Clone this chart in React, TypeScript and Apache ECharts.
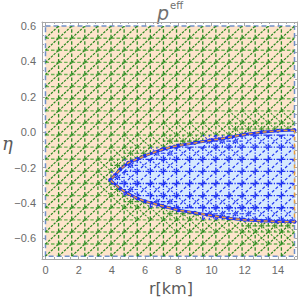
import React, { useEffect, useRef } from "react";
import * as echarts from "echarts";

// Axis ticks / labels
const X_MAJOR = [0, 2, 4, 6, 8, 10, 12, 14];
const X_MINOR = [0.5, 1, 1.5, 2.5, 3, 3.5, 4.5, 5, 5.5, 6.5, 7, 7.5, 8.5, 9, 9.5, 10.5, 11, 11.5, 12.5, 13, 13.5, 14.5, 15];
const Y_MAJOR = [-0.6, -0.4, -0.2, 0, 0.2, 0.4, 0.6];
const Y_MINOR = [-0.7, -0.65, -0.55, -0.5, -0.45, -0.35, -0.3, -0.25, -0.15, -0.1, -0.05, 0.05, 0.1, 0.15, 0.25, 0.3, 0.35, 0.45, 0.5, 0.55];

// Plotted domain of the region plot
const X_RANGE = [0, 15];
const Y_RANGE = [-0.7, 0.6];
const MESH_NX = 19;
const MESH_NY = 19;

// Boundary of the blue region (upper and lower edges sharing r values)
const BOUND_X = [3.9, 4.5, 5, 5.5, 6, 7, 8, 9, 10, 11, 12, 13, 14, 15];
const UPPER = [-0.27, -0.21, -0.172, -0.152, -0.133, -0.098, -0.075, -0.06, -0.045, -0.03, -0.012, 0.0, 0.008, 0.012];
const LOWER = [-0.27, -0.318, -0.348, -0.372, -0.39, -0.415, -0.44, -0.455, -0.47, -0.485, -0.495, -0.5, -0.505, -0.505];

const interp = (xs: number[], ys: number[], x: number) => {
  if (x <= xs[0]) return ys[0];
  for (let k = 1; k < xs.length; k++) {
    if (x <= xs[k]) {
      const t = (x - xs[k - 1]) / (xs[k] - xs[k - 1]);
      return ys[k - 1] + t * (ys[k] - ys[k - 1]);
    }
  }
  return ys[ys.length - 1];
};
const inBlue = (x: number, y: number) => {
  if (x < BOUND_X[0]) return false;
  return y <= interp(BOUND_X, UPPER, x) && y >= interp(BOUND_X, LOWER, x);
};

// Mesh (triangulated sampling grid) segments: [x1, y1, x2, y2, kind, blue]
// kind: 0 vertical, 1 horizontal, 2 diagonal, 3 anti-diagonal/refinement
const buildMesh = () => {
  const xs: number[] = [];
  const ys: number[] = [];
  for (let i = 0; i <= MESH_NX; i++) xs.push(X_RANGE[0] + ((X_RANGE[1] - X_RANGE[0]) * i) / MESH_NX);
  for (let j = 0; j <= MESH_NY; j++) ys.push(Y_RANGE[0] + ((Y_RANGE[1] - Y_RANGE[0]) * j) / MESH_NY);
  const segs: number[][] = [];
  const add = (x1: number, y1: number, x2: number, y2: number, kind: number) => {
    const b = inBlue((x1 + x2) / 2, (y1 + y2) / 2) ? 1 : 0;
    segs.push([x1, y1, x2, y2, kind, b]);
  };
  for (let i = 1; i < MESH_NX; i++)
    for (let j = 0; j < MESH_NY; j++) add(xs[i], ys[j], xs[i], ys[j + 1], 0);
  for (let j = 1; j < MESH_NY; j++)
    for (let i = 0; i < MESH_NX; i++) add(xs[i], ys[j], xs[i + 1], ys[j], 1);
  for (let i = 0; i < MESH_NX; i++)
    for (let j = 0; j < MESH_NY; j++) add(xs[i], ys[j], xs[i + 1], ys[j + 1], 2);
  const corner = (i: number, j: number) => inBlue(xs[i], ys[j]);
  const mixed = (i: number, j: number) => {
    if (i < 0 || j < 0 || i >= MESH_NX || j >= MESH_NY) return false;
    const c = [corner(i, j), corner(i + 1, j), corner(i, j + 1), corner(i + 1, j + 1)];
    return c.some((v) => v) && c.some((v) => !v);
  };
  for (let i = 0; i < MESH_NX; i++)
    for (let j = 0; j < MESH_NY; j++) {
      const m = mixed(i, j);
      const near = m || mixed(i - 1, j) || mixed(i + 1, j) || mixed(i, j - 1) || mixed(i, j + 1);
      if (near) add(xs[i], ys[j + 1], xs[i + 1], ys[j], 3);
      if (m) {
        const xc = (xs[i] + xs[i + 1]) / 2;
        const yc = (ys[j] + ys[j + 1]) / 2;
        add(xc, ys[j], xc, ys[j + 1], 3);
        add(xs[i], yc, xs[i + 1], yc, 3);
      }
    }
  return segs;
};
const MESH = buildMesh();

const FRAME = "#A8A8A8";
const LABEL = "#6A6A6A";
const FONT = "Liberation Sans";

const meshStyle = (kind: number, blue: number) => {
  if (blue) {
    if (kind === 0) return { stroke: "#1F33F0", lineWidth: 1.3, lineDash: [4, 1.5, 1.2, 1.5] };
    if (kind === 1) return { stroke: "#1F33F0", lineWidth: 1.3, lineDash: [4, 1.5, 1.2, 1.5] };
    if (kind === 2) return { stroke: "#1F33F0", lineWidth: 1.2, lineDash: [3, 2] };
    return { stroke: "#1F33F0", lineWidth: 1.1, lineDash: [2, 1.5] };
  }
  if (kind === 0) return { stroke: "#2F8E28", lineWidth: 1.3, lineDash: [3.5, 2] };
  if (kind === 1) return { stroke: "#6DB154", lineWidth: 1.4, lineDash: [3.5, 2] };
  if (kind === 2) return { stroke: "#26861C", lineWidth: 1.2, lineDash: [2.5, 1.2] };
  return { stroke: "#339127", lineWidth: 1.1, lineDash: [2, 1.5] };
};

const meshSeries = (blue: number, z: number) => ({
  type: "custom",
  coordinateSystem: "cartesian2d",
  xAxisIndex: 0,
  yAxisIndex: 0,
  z,
  silent: true,
  data: MESH.filter((s) => s[5] === blue),
  encode: { x: [0, 2], y: [1, 3] },
  renderItem: (_p: any, api: any) => {
    const a = api.coord([api.value(0), api.value(1)]);
    const b = api.coord([api.value(2), api.value(3)]);
    return {
      type: "line",
      shape: { x1: a[0], y1: a[1], x2: b[0], y2: b[1] },
      style: { ...meshStyle(api.value(4), blue), fill: null },
    };
  },
});

const boundaryOpen = () => {
  const pts: number[][] = [];
  for (let k = BOUND_X.length - 1; k >= 0; k--) pts.push([BOUND_X[k], UPPER[k]]);
  for (let k = 1; k < BOUND_X.length; k++) pts.push([BOUND_X[k], LOWER[k]]);
  return pts;
};

const xAxisDef = (pos: string, values: number[], len: number, labels: boolean, line: boolean) => ({
  type: "value",
  min: -0.21,
  max: 15.15,
  position: pos,
  splitLine: { show: false },
  axisLine: { show: line, onZero: false, lineStyle: { color: FRAME, width: 1 } },
  axisTick: { show: true, inside: true, length: len, customValues: values, lineStyle: { color: FRAME } },
  axisLabel: labels
    ? { show: true, customValues: values, color: LABEL, fontSize: 11, fontFamily: FONT, margin: 5 }
    : { show: false },
});
const yAxisDef = (pos: string, values: number[], len: number, labels: boolean, line: boolean) => ({
  type: "value",
  min: -0.716,
  max: 0.623,
  position: pos,
  splitLine: { show: false },
  axisLine: { show: line, onZero: false, lineStyle: { color: FRAME, width: 1 } },
  axisTick: { show: true, inside: true, length: len, customValues: values, lineStyle: { color: FRAME } },
  axisLabel: labels
    ? {
        show: true,
        customValues: values,
        color: LABEL,
        fontSize: 11,
        fontFamily: FONT,
        margin: 6,
        formatter: (v: number) => (v < 0 ? "−" + Math.abs(v).toFixed(1) : v.toFixed(1)),
      }
    : { show: false },
});

export default function App() {
  const ref = useRef<HTMLDivElement>(null);
  useEffect(() => {
    const chart = echarts.init(ref.current!, null, { renderer: "svg" });
    const open = boundaryOpen();
    const closed = [...open, open[0]];
    chart.setOption({
      animation: false,
      backgroundColor: "#ffffff",
      grid: { left: 42, right: 3, top: 22, bottom: 41, containLabel: false },
      xAxis: [
        xAxisDef("bottom", X_MAJOR, 4, true, true),
        xAxisDef("bottom", X_MINOR, 2, false, false),
        xAxisDef("top", X_MAJOR, 4, false, true),
        xAxisDef("top", X_MINOR, 2, false, false),
      ],
      yAxis: [
        yAxisDef("left", Y_MAJOR, 4, true, true),
        yAxisDef("left", Y_MINOR, 2, false, false),
        yAxisDef("right", Y_MAJOR, 4, false, true),
        yAxisDef("right", Y_MINOR, 2, false, false),
      ],
      graphic: [
        { type: "text", left: 157, top: 3, style: { text: "p", fontSize: 19, fontStyle: "italic", fontFamily: "DejaVu Sans", fill: "#707070" } },
        { type: "text", left: 170, top: 0, style: { text: "eff", fontSize: 10, fontFamily: "DejaVu Sans", fill: "#707070" } },
        { type: "text", left: 2, top: 134, style: { text: "η", fontSize: 18, fontStyle: "italic", fontFamily: "DejaVu Serif", fill: "#5A5A5A" } },
        { type: "text", left: 149, top: 280, style: { text: "r[km]", fontSize: 16, fontFamily: "DejaVu Sans", fill: "#5A5A5A" } },
      ],
      series: [
        {
          type: "custom",
          coordinateSystem: "cartesian2d",
          z: 1,
          silent: true,
          data: [[X_RANGE[0], Y_RANGE[0], X_RANGE[1], Y_RANGE[1]]],
          encode: { x: [0, 2], y: [1, 3] },
          renderItem: (_p: any, api: any) => {
            const a = api.coord([api.value(0), api.value(3)]);
            const b = api.coord([api.value(2), api.value(1)]);
            return {
              type: "rect",
              shape: { x: a[0], y: a[1], width: b[0] - a[0], height: b[1] - a[1] },
              style: { fill: "#FDE4CB", stroke: "#6F8FC8", lineWidth: 1.5, lineDash: [5, 3] },
            };
          },
        },
        meshSeries(0, 2),
        {
          type: "custom",
          coordinateSystem: "cartesian2d",
          z: 3,
          silent: true,
          data: closed,
          encode: { x: 0, y: 1 },
          renderItem: (p: any, api: any) => {
            if (p.dataIndex !== 0) return null;
            const pts = closed.map((q) => api.coord(q));
            return { type: "polygon", shape: { points: pts }, style: { fill: "#D6E9FE", stroke: null } };
          },
        },
        meshSeries(1, 4),
        {
          type: "line",
          z: 5,
          silent: true,
          data: open,
          symbol: "circle",
          symbolSize: 4,
          itemStyle: { color: "#1E30F0" },
          lineStyle: { color: "#1E30F0", width: 2.8 },
        },
        {
          type: "line",
          z: 6,
          silent: true,
          data: closed,
          symbol: "none",
          lineStyle: { color: "#E89B3C", width: 1.5, type: [4, 3] },
        },
      ],
    });
    return () => chart.dispose();
  }, []);
  return (
    <div
      ref={ref}
      style={{ position: "fixed", left: 0, top: 0, width: 300, height: 300, background: "#fff" }}
    />
  );
}
